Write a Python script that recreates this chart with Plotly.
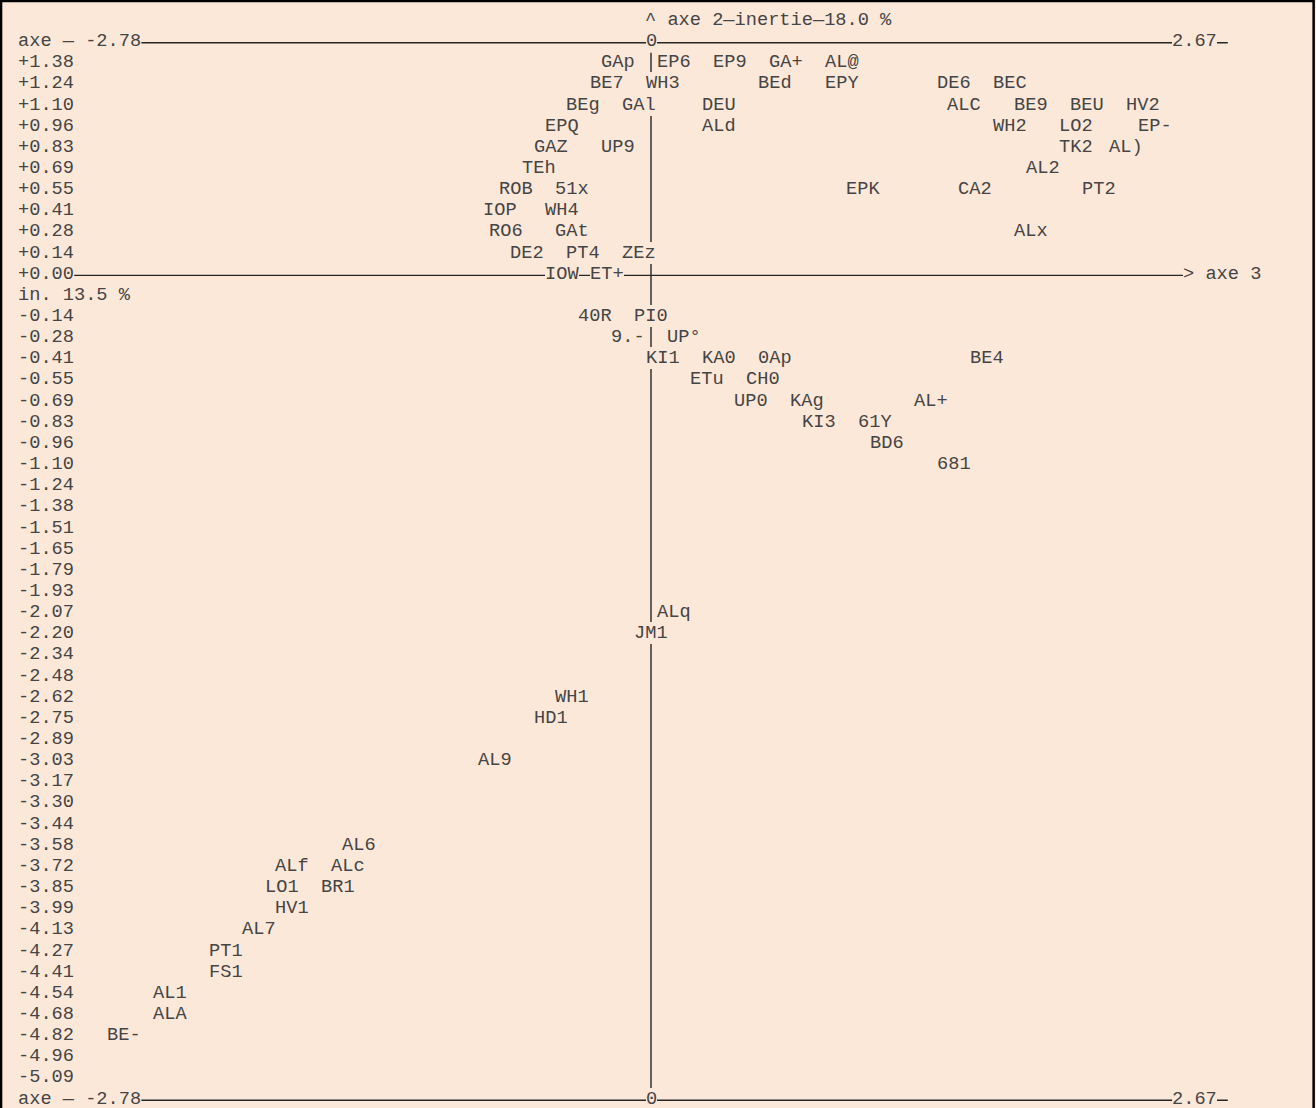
import plotly.graph_objects as go

# ---------------- data ----------------
ROWS_POS = ["+1.38", "+1.24", "+1.10", "+0.96", "+0.83", "+0.69", "+0.55",
            "+0.41", "+0.28", "+0.14", "+0.00"]
ROWS_NEG = ["-0.14", "-0.28", "-0.41", "-0.55", "-0.69", "-0.83", "-0.96",
            "-1.10", "-1.24", "-1.38", "-1.51", "-1.65", "-1.79", "-1.93",
            "-2.07", "-2.20", "-2.34", "-2.48", "-2.62", "-2.75", "-2.89",
            "-3.03", "-3.17", "-3.30", "-3.44", "-3.58", "-3.72", "-3.85",
            "-3.99", "-4.13", "-4.27", "-4.41", "-4.54", "-4.68", "-4.82",
            "-4.96", "-5.09"]
AXE3_INERTIA_ROW = "in. 13.5 %"
TITLE_TEXT = "^ axe 2—inertie—18.0 %"
AXIS_LEFT_TEXT = "axe — -2.78"
AXIS_RIGHT_TEXT = "2.67"
AXIS_ZERO_TEXT = "0"
AXE3_ARROW_TEXT = "> axe 3"

NAMES = ["GAp", "EP6", "EP9", "GA+", "AL@",
         "BE7", "WH3", "BEd", "EPY", "DE6", "BEC",
         "BEg", "GAl", "DEU", "ALC", "BE9", "BEU", "HV2",
         "EPQ", "ALd", "WH2", "LO2", "EP-",
         "GAZ", "UP9", "TK2", "AL)",
         "TEh", "AL2",
         "ROB", "51x", "EPK", "CA2", "PT2",
         "IOP", "WH4",
         "RO6", "GAt", "ALx",
         "DE2", "PT4", "ZEz",
         "IOW", "ET+",
         "40R", "PI0",
         "9.-", "UP°",
         "KI1", "KA0", "0Ap", "BE4",
         "ETu", "CH0",
         "UP0", "KAg", "AL+",
         "KI3", "61Y",
         "BD6",
         "681",
         "ALq",
         "JM1",
         "WH1",
         "HD1",
         "AL9",
         "AL6",
         "ALf", "ALc",
         "LO1", "BR1",
         "HV1",
         "AL7",
         "PT1",
         "FS1",
         "AL1",
         "ALA",
         "BE-"]
AXE3 = [-0.17, 0.12, 0.41, 0.70, 0.99,
        -0.23, 0.06, 0.64, 0.99, 1.57, 1.86,
        -0.35, -0.06, 0.35, 1.62, 1.97, 2.26, 2.55,
        -0.46, 0.35, 1.86, 2.20, 2.61,
        -0.52, -0.17, 2.20, 2.46,
        -0.58, 2.03,
        -0.70, -0.41, 1.10, 1.68, 2.32,
        -0.78, -0.46,
        -0.75, -0.41, 1.97,
        -0.64, -0.35, -0.06,
        -0.46, -0.23,
        -0.29, 0.00,
        -0.12, 0.17,
        0.06, 0.35, 0.64, 1.74,
        0.29, 0.58,
        0.52, 0.81, 1.45,
        0.87, 1.16,
        1.22,
        1.57,
        0.12,
        0.00,
        -0.41,
        -0.52,
        -0.81,
        -1.51,
        -1.86, -1.57,
        -1.91, -1.62,
        -1.86,
        -2.03,
        -2.20,
        -2.20,
        -2.49,
        -2.49,
        -2.73]
AXE2 = ["+1.38"] * 5 + ["+1.24"] * 6 + ["+1.10"] * 7 + ["+0.96"] * 5 + \
       ["+0.83"] * 4 + ["+0.69"] * 2 + ["+0.55"] * 5 + ["+0.41"] * 2 + \
       ["+0.28"] * 3 + ["+0.14"] * 3 + ["+0.00"] * 2 + ["-0.14"] * 2 + \
       ["-0.28"] * 2 + ["-0.41"] * 4 + ["-0.55"] * 2 + ["-0.69"] * 3 + \
       ["-0.83"] * 2 + ["-0.96", "-1.10", "-2.07", "-2.20", "-2.62", "-2.75",
                        "-3.03", "-3.58"] + ["-3.72"] * 2 + ["-3.85"] * 2 + \
       ["-3.99", "-4.13", "-4.27", "-4.41", "-4.54", "-4.68", "-4.82"]

# ---------------- style / layout constants ----------------
W, H = 1316, 1108
BG = "#fce8d9"
INK = "#454545"
LINE_INK = "#262626"
FONT = dict(family="Liberation Mono, Courier New, monospace", size=18.67, color=INK)
CW = 11.2            # character cell width (px)
X0 = 18.2            # left of column 0 (px)
ORIGIN = 651.0       # pixel of axe-3 = 0
UNIT = 0.058         # axe-3 units per character column
PPU = CW / UNIT
RH = 21.15           # row pitch (px)
R0 = 19.9            # centre of first row (px)


def col_x(c):
    return (X0 + c * CW - ORIGIN) / PPU


CATS = ["_title", "_top"] + ROWS_POS + [AXE3_INERTIA_ROW] + ROWS_NEG + ["_bottom"]
POS = {c: i for i, c in enumerate(CATS)}   # category -> index on the category axis
I_TOP = POS["_top"]
I_BOT = POS["_bottom"]
I_ZERO = POS["+0.00"]
I_FIRST = POS[ROWS_POS[0]]
I_LAST = POS[ROWS_NEG[-1]]

fig = go.Figure()
fig.add_trace(go.Scatter(x=[0] * len(CATS), y=CATS, mode="markers",
                         marker=dict(opacity=0), hoverinfo="skip",
                         showlegend=False))
fig.add_trace(go.Scatter(x=AXE3, y=AXE2, mode="markers", text=NAMES,
                         marker=dict(opacity=0),
                         hovertemplate="%{text}<br>axe 3: %{x}<br>axe 2: %{y}<extra></extra>",
                         showlegend=False))

ann = []


def add_text(x, row, text, anchor="center", mask=False):
    d = dict(x=x, y=POS[row], xref="x", yref="y", text=text, showarrow=False,
             xanchor=anchor, yanchor="middle", font=FONT,
             borderpad=0, borderwidth=0)
    if mask:
        d["bgcolor"] = BG
    ann.append(d)


# row labels (axe 2 values)
for r in ROWS_POS + [AXE3_INERTIA_ROW] + ROWS_NEG:
    add_text(col_x(0), r, r, anchor="left")

# title / axes texts
add_text(col_x(56), "_title", TITLE_TEXT, anchor="left")
for row in ["_top", "_bottom"]:
    add_text(col_x(0), row, AXIS_LEFT_TEXT, anchor="left")
    add_text(0, row, AXIS_ZERO_TEXT, mask=True)
    add_text(col_x(103), row, AXIS_RIGHT_TEXT, anchor="left", mask=True)
add_text(col_x(104), "+0.00", AXE3_ARROW_TEXT, anchor="left")

# point labels
for name, x, y in zip(NAMES, AXE3, AXE2):
    add_text(x, y, name, mask=True)

DY = 0.08
line = dict(color=LINE_INK, width=1.4)
shapes = [
    dict(type="line", xref="x", yref="y", x0=col_x(11), x1=col_x(108),
         y0=I_TOP + DY, y1=I_TOP + DY, line=line, layer="below"),
    dict(type="line", xref="x", yref="y", x0=col_x(11), x1=col_x(108),
         y0=I_BOT + DY, y1=I_BOT + DY, line=line, layer="below"),
    dict(type="line", xref="x", yref="y", x0=col_x(5), x1=col_x(104),
         y0=I_ZERO + DY, y1=I_ZERO + DY, line=line, layer="below"),
    dict(type="line", xref="x", yref="y", x0=0, x1=0,
         y0=I_FIRST - 0.45, y1=I_LAST + 0.65, line=line, layer="below"),
    dict(type="rect", xref="paper", yref="paper", x0=0.0008, x1=0.9982,
         y0=-0.05, y1=0.999, line=dict(color="#000000", width=2.5)),
]

fig.update_layout(
    width=W, height=H,
    margin=dict(l=0, r=0, t=0, b=0, pad=0),
    paper_bgcolor=BG, plot_bgcolor=BG,
    showlegend=False,
    annotations=ann, shapes=shapes,
    xaxis=dict(range=[(0 - ORIGIN) / PPU, (W - ORIGIN) / PPU], visible=False,
               fixedrange=True),
    yaxis=dict(type="category", categoryorder="array", categoryarray=CATS,
               range=[(H - R0) / RH, (0 - R0) / RH], visible=False,
               fixedrange=True),
)

fig.write_html("out.html", post_script="document.body.style.margin='0';",
               config={"displayModeBar": False})
